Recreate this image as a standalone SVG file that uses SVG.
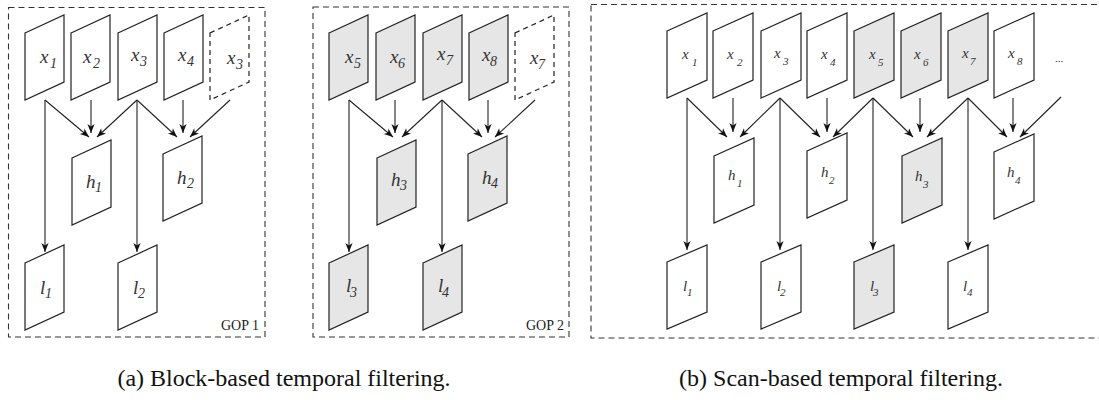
<svg xmlns="http://www.w3.org/2000/svg" width="1099" height="400" viewBox="0 0 1099 400">
  <style>
    .frame { fill: #ffffff; stroke: #222222; stroke-width: 1.2; stroke-linejoin: miter; }
    .frame.g { fill: #e6e6e6; }
    .frame.d { fill: none; stroke-dasharray: 5 4; }
    .box { fill: none; stroke: #333333; stroke-width: 1.1; stroke-dasharray: 6 4; }
    .edge { fill: none; stroke: #222222; stroke-width: 1.1; marker-end: url(#ah); }
    .la { font-family: "Liberation Serif", serif; font-style: italic; font-size: 19px; fill: #333333; }
    .la .s { font-size: 14px; }
    .lb { font-family: "Liberation Serif", serif; font-style: italic; font-size: 15px; fill: #333333; }
    .lb .s { font-size: 11px; }
    .gop { font-family: "Liberation Serif", serif; font-size: 14px; fill: #222222; text-anchor: end; }
    .cap { font-family: "Liberation Serif", serif; font-size: 24px; fill: #111111; text-anchor: middle; }
  </style>
  <defs>
    <marker id="ah" markerUnits="userSpaceOnUse" markerWidth="12" markerHeight="10" viewBox="-10 -5 12 10" refX="0" refY="0" orient="auto">
      <path d="M0,0 L-9,-3.6 L-6.5,0 L-9,3.6 Z" fill="#111111"/>
    </marker>
  </defs>

  <!-- group-of-pictures boxes and the scan window -->
  <g id="boxes">
    <rect class="box" x="8.5" y="7.5" width="256.5" height="329.5"/>
    <rect class="box" x="313" y="7" width="256" height="330"/>
    <rect class="box" x="591" y="4.5" width="530" height="333.5"/>
    <text class="gop" x="259" y="330">GOP 1</text>
    <text class="gop" x="564" y="330">GOP 2</text>
  </g>

  <!-- ===== connectors ===== -->
  <g id="connectors">
    <!-- (a) GOP 1 -->
    <line class="edge" x1="45" y1="100" x2="89" y2="137"/>
    <line class="edge" x1="91" y1="100" x2="91" y2="133"/>
    <line class="edge" x1="137" y1="100" x2="97" y2="137"/>
    <line class="edge" x1="137" y1="100" x2="177" y2="137"/>
    <line class="edge" x1="183" y1="100" x2="183" y2="133"/>
    <line class="edge" x1="230" y1="100" x2="190" y2="137"/>
    <line class="edge" x1="45" y1="100" x2="45" y2="252"/>
    <line class="edge" x1="137" y1="100" x2="137" y2="252"/>
    <!-- (a) GOP 2 -->
    <line class="edge" x1="349" y1="100" x2="393" y2="137"/>
    <line class="edge" x1="395" y1="100" x2="395" y2="133"/>
    <line class="edge" x1="442" y1="100" x2="402" y2="137"/>
    <line class="edge" x1="442" y1="100" x2="482" y2="137"/>
    <line class="edge" x1="488" y1="100" x2="488" y2="133"/>
    <line class="edge" x1="535" y1="100" x2="495" y2="137"/>
    <line class="edge" x1="349" y1="100" x2="349" y2="252"/>
    <line class="edge" x1="442" y1="100" x2="442" y2="252"/>
    <!-- (b) scan-based -->
    <line class="edge" x1="687" y1="98" x2="727" y2="137"/>
    <line class="edge" x1="733" y1="98" x2="733" y2="132"/>
    <line class="edge" x1="780" y1="98" x2="740" y2="137"/>
    <line class="edge" x1="780" y1="98" x2="820" y2="137"/>
    <line class="edge" x1="827" y1="98" x2="827" y2="132"/>
    <line class="edge" x1="873" y1="98" x2="833" y2="137"/>
    <line class="edge" x1="873" y1="98" x2="913" y2="137"/>
    <line class="edge" x1="920" y1="98" x2="920" y2="132"/>
    <line class="edge" x1="968" y1="98" x2="927" y2="137"/>
    <line class="edge" x1="968" y1="98" x2="1007" y2="137"/>
    <line class="edge" x1="1013" y1="98" x2="1013" y2="132"/>
    <line class="edge" x1="1061" y1="97" x2="1020" y2="137"/>
    <line class="edge" x1="687" y1="98" x2="687" y2="250"/>
    <line class="edge" x1="780" y1="98" x2="780" y2="250"/>
    <line class="edge" x1="873" y1="98" x2="873" y2="250"/>
    <line class="edge" x1="968" y1="98" x2="968" y2="250"/>
  </g>

  <!-- ===== (a) GOP 1 frames ===== -->
  <g id="a-x1"><polygon class="frame" points="25,33 64,15 64,82 25,100"/><text class="la" x="40" y="63">x<tspan class="s" x="50" y="68">1</tspan></text></g>
  <g id="a-x2"><polygon class="frame" points="71,33 110,15 110,82 71,100"/><text class="la" x="83" y="63">x<tspan class="s" x="93" y="68">2</tspan></text></g>
  <g id="a-x3"><polygon class="frame" points="118,33 157,15 157,82 118,100"/><text class="la" x="131" y="61">x<tspan class="s" x="140" y="66">3</tspan></text></g>
  <g id="a-x4"><polygon class="frame" points="164,33 203,15 203,82 164,100"/><text class="la" x="178" y="61">x<tspan class="s" x="187" y="66">4</tspan></text></g>
  <g id="a-x3-mirror"><polygon class="frame d" points="210,33 249,15 249,82 210,100"/><text class="la" x="227" y="64">x<tspan class="s" x="236" y="69">3</tspan></text></g>
  <g id="a-h1"><polygon class="frame" points="72,158 111,140 111,207 72,225"/><text class="la" x="86" y="188">h<tspan class="s" x="95" y="192">1</tspan></text></g>
  <g id="a-h2"><polygon class="frame" points="163,154 202,136 202,203 163,221"/><text class="la" x="177" y="184">h<tspan class="s" x="187" y="188">2</tspan></text></g>
  <g id="a-l1"><polygon class="frame" points="25,263 64,245 64,312 25,330"/><text class="la" x="40" y="294">l<tspan class="s" x="45" y="298">1</tspan></text></g>
  <g id="a-l2"><polygon class="frame" points="118,263 157,245 157,312 118,330"/><text class="la" x="133" y="294">l<tspan class="s" x="138" y="298">2</tspan></text></g>

  <!-- ===== (a) GOP 2 frames ===== -->
  <g id="a-x5"><polygon class="frame g" points="329,33 368,15 368,82 329,100"/><text class="la" x="345" y="63">x<tspan class="s" x="354" y="68">5</tspan></text></g>
  <g id="a-x6"><polygon class="frame g" points="376,33 415,15 415,82 376,100"/><text class="la" x="390" y="63">x<tspan class="s" x="398" y="68">6</tspan></text></g>
  <g id="a-x7"><polygon class="frame g" points="423,33 462,15 462,82 423,100"/><text class="la" x="437" y="60">x<tspan class="s" x="446" y="65">7</tspan></text></g>
  <g id="a-x8"><polygon class="frame g" points="469,33 508,15 508,82 469,100"/><text class="la" x="482" y="61">x<tspan class="s" x="490" y="66">8</tspan></text></g>
  <g id="a-x7-mirror"><polygon class="frame d" points="515,33 554,15 554,82 515,100"/><text class="la" x="530" y="64">x<tspan class="s" x="538" y="69">7</tspan></text></g>
  <g id="a-h3"><polygon class="frame g" points="377,158 416,140 416,207 377,225"/><text class="la" x="391" y="186">h<tspan class="s" x="400" y="190">3</tspan></text></g>
  <g id="a-h4"><polygon class="frame g" points="468,154 507,136 507,203 468,221"/><text class="la" x="482" y="184">h<tspan class="s" x="491" y="188">4</tspan></text></g>
  <g id="a-l3"><polygon class="frame g" points="329,263 368,245 368,312 329,330"/><text class="la" x="346" y="292">l<tspan class="s" x="350" y="297">3</tspan></text></g>
  <g id="a-l4"><polygon class="frame g" points="423,263 462,245 462,312 423,330"/><text class="la" x="438" y="292">l<tspan class="s" x="442" y="297">4</tspan></text></g>

  <!-- ===== (b) scan-based frames ===== -->
  <g id="b-x1"><polygon class="frame" points="667,31 707,13 707,80 667,98"/><text class="lb" x="682" y="59">x<tspan class="s" x="692" y="66">1</tspan></text></g>
  <g id="b-x2"><polygon class="frame" points="713,31 753,13 753,80 713,98"/><text class="lb" x="727" y="59">x<tspan class="s" x="737" y="66">2</tspan></text></g>
  <g id="b-x3"><polygon class="frame" points="761,31 801,13 801,80 761,98"/><text class="lb" x="774" y="58">x<tspan class="s" x="783" y="65">3</tspan></text></g>
  <g id="b-x4"><polygon class="frame" points="807,31 847,13 847,80 807,98"/><text class="lb" x="821" y="59">x<tspan class="s" x="830" y="66">4</tspan></text></g>
  <g id="b-x5"><polygon class="frame g" points="854,31 894,13 894,80 854,98"/><text class="lb" x="869" y="59">x<tspan class="s" x="878" y="66">5</tspan></text></g>
  <g id="b-x6"><polygon class="frame g" points="901,31 941,13 941,80 901,98"/><text class="lb" x="914" y="59">x<tspan class="s" x="923" y="66">6</tspan></text></g>
  <g id="b-x7"><polygon class="frame g" points="948,31 988,13 988,80 948,98"/><text class="lb" x="962" y="58">x<tspan class="s" x="970" y="65">7</tspan></text></g>
  <g id="b-x8"><polygon class="frame" points="994,31 1034,13 1034,80 994,98"/><text class="lb" x="1008" y="58">x<tspan class="s" x="1017" y="65">8</tspan></text></g>
  <g id="b-more"><text class="lb" x="1055" y="62" style="font-style:normal;font-size:11px">...</text></g>
  <g id="b-h1"><polygon class="frame" points="714,156 754,138 754,205 714,223"/><text class="lb" x="728" y="180">h<tspan class="s" x="737" y="187">1</tspan></text></g>
  <g id="b-h2"><polygon class="frame" points="807,151 847,133 847,200 807,218"/><text class="lb" x="821" y="177">h<tspan class="s" x="829" y="184">2</tspan></text></g>
  <g id="b-h3"><polygon class="frame g" points="902,156 942,138 942,205 902,223"/><text class="lb" x="915" y="181">h<tspan class="s" x="923" y="188">3</tspan></text></g>
  <g id="b-h4"><polygon class="frame" points="994,152 1034,134 1034,201 994,219"/><text class="lb" x="1007" y="177">h<tspan class="s" x="1015" y="184">4</tspan></text></g>
  <g id="b-l1"><polygon class="frame" points="667,262 707,245 707,312 667,329"/><text class="lb" x="683" y="291">l<tspan class="s" x="687" y="296">1</tspan></text></g>
  <g id="b-l2"><polygon class="frame" points="761,262 801,245 801,312 761,329"/><text class="lb" x="777" y="291">l<tspan class="s" x="780" y="296">2</tspan></text></g>
  <g id="b-l3"><polygon class="frame g" points="854,262 894,245 894,312 854,329"/><text class="lb" x="870" y="291">l<tspan class="s" x="873" y="296">3</tspan></text></g>
  <g id="b-l4"><polygon class="frame" points="948,262 988,245 988,312 948,329"/><text class="lb" x="963" y="291">l<tspan class="s" x="967" y="296">4</tspan></text></g>

  <!-- captions -->
  <text class="cap" x="284" y="386">(a) Block-based temporal filtering.</text>
  <text class="cap" x="841" y="386">(b) Scan-based temporal filtering.</text>
</svg>
